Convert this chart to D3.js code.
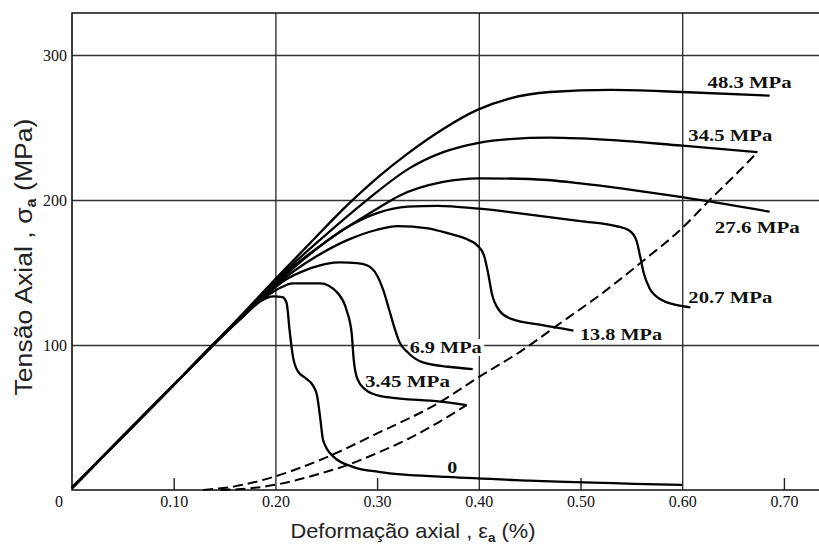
<!DOCTYPE html>
<html>
<head>
<meta charset="utf-8">
<script src="https://cdn.jsdelivr.net/npm/d3@7"></script>
<style>
	body { margin: 0; background: #fff; }
	svg { display: block; background: #fff; }
	.tick text { font-family: 'Liberation Serif', 'Times New Roman', serif; font-size: 16px; fill: #111; }
	.axis-title { font-family: 'Liberation Sans', Arial, sans-serif; fill: #222; }
	.curve-label { font-family: 'Liberation Serif', 'Times New Roman', serif; font-size: 17px; font-weight: bold; fill: #111; }
</style>
</head>
<body>
<svg id="chart-svg" width="819" height="548"></svg>
<script>
// Triaxial stress-strain curves, axial strain (%) vs axial stress (MPa)

// shared initial (elastic) branch
const ELASTIC = [[0, 1.5], [0.05, 37], [0.10, 72.5], [0.14, 101]];

// one array per confining pressure: [strain %, stress MPa]
const CURVE_0 = [[0.17, 121], [0.185, 130], [0.198, 133.5], [0.207, 133], [0.211, 129], [0.214, 110], [0.217, 93],
	[0.222, 82], [0.23, 77], [0.237, 72], [0.241, 65], [0.244, 50], [0.247, 34], [0.257, 23], [0.276, 16],
	[0.303, 12.4], [0.369, 9], [0.45, 6.5], [0.60, 3.5]];
const CURVE_345 = [[0.17, 121.5], [0.19, 133], [0.205, 139.5], [0.217, 142.5], [0.244, 142.5], [0.261, 136],
	[0.270, 124], [0.275, 108], [0.277, 90], [0.281, 76], [0.291, 68], [0.31, 64], [0.362, 61], [0.388, 58.6]];
const CURVE_69 = [[0.17, 121], [0.19, 134], [0.21, 145], [0.231, 152], [0.25, 156], [0.264, 157], [0.28, 156.5],
	[0.29, 155], [0.30, 148], [0.306, 138], [0.312, 124], [0.317, 112], [0.322, 102], [0.33, 95], [0.345, 88],
	[0.37, 85], [0.394, 83.4]];
const CURVE_138 = [[0.17, 121], [0.20, 141], [0.24, 161], [0.273, 173], [0.30, 179.5], [0.32, 182], [0.35, 180.5],
	[0.37, 177], [0.39, 172.5], [0.398, 169], [0.405, 162], [0.409, 150], [0.413, 135], [0.42, 124], [0.432, 118],
	[0.46, 114], [0.493, 110]];
const CURVE_207 = [[0.17, 121.5], [0.20, 142], [0.24, 166], [0.27, 181], [0.30, 191], [0.33, 195.5], [0.36, 196],
	[0.40, 194], [0.45, 190], [0.50, 185.5], [0.535, 182], [0.548, 179], [0.555, 172], [0.559, 160], [0.562, 150],
	[0.568, 139], [0.58, 131], [0.595, 127.5], [0.608, 126]];
const CURVE_276 = [[0.17, 122], [0.20, 143.5], [0.251, 172], [0.30, 194], [0.322, 203], [0.365, 212.5],
	[0.40, 215], [0.45, 214.5], [0.50, 211.5], [0.55, 207], [0.60, 202], [0.686, 192]];
const CURVE_345B = [[0.17, 122.5], [0.20, 144.5], [0.243, 172], [0.29, 200], [0.332, 222], [0.365, 233],
	[0.40, 239.5], [0.43, 242], [0.47, 243], [0.50, 242.5], [0.60, 237.5], [0.674, 233]];
const CURVE_483 = [[0.17, 123], [0.20, 145.5], [0.231, 168], [0.273, 198], [0.303, 217], [0.33, 232], [0.365, 249],
	[0.398, 262], [0.43, 270], [0.47, 274.5], [0.53, 276], [0.60, 274.5], [0.686, 272]];

// dashed unloading lines
const DASH_UPPER = [[0.129, 0], [0.16, 2.5], [0.198, 9], [0.244, 20.7], [0.30, 39], [0.362, 60.7], [0.398, 77],
	[0.443, 96.5], [0.48, 115], [0.52, 135], [0.559, 156.6], [0.60, 180.7], [0.627, 200], [0.657, 220.7], [0.674, 233]];
const DASH_LOWER = [[0.146, 0], [0.18, 1.5], [0.21, 5], [0.24, 10.5], [0.27, 17], [0.30, 25.5], [0.33, 35],
	[0.36, 46.5], [0.388, 58.6]];

const CURVES = [CURVE_0, CURVE_345, CURVE_69, CURVE_138, CURVE_207, CURVE_276, CURVE_345B, CURVE_483];
const LABELS = ['0', '3.45 MPa', '6.9 MPa', '13.8 MPa', '20.7 MPa', '27.6 MPa', '34.5 MPa', '48.3 MPa'];
// where each label sits, in chart units [strain, stress]
const LABEL_AT = [[0.369, 11.7], [0.288, 71], [0.332, 94.5], [0.4995, 103.4], [0.606, 129], [0.632, 177],
	[0.606, 240.7], [0.625, 277]];

const X_LABEL_TICKS = [0.10, 0.20, 0.30, 0.40, 0.50, 0.60, 0.70];
const X_GRID = [0.20, 0.40, 0.60];
const X_MINOR = [0.10, 0.30, 0.50, 0.70];
const Y_TICKS = [100, 200, 300];

// label widths in px (the scanned type is wide)
const LABEL_WIDTHS = [10, 85, 72, 82, 84, 85, 84, 84];

const svg = d3.select('#chart-svg');
const plotLeft = 72, plotRight = 819, plotTop = 13, plotBottom = 490;

const x = d3.scaleLinear([0, 0.7345], [plotLeft, plotRight]);
const y = d3.scaleLinear([0, 329], [plotBottom, plotTop]);

// grid lines
const xGrid = svg.append('g').attr('transform', `translate(0,${plotBottom})`)
	.call(d3.axisBottom(x).tickValues(X_GRID).tickSize(-(plotBottom - plotTop)).tickFormat(''));
xGrid.select('.domain').remove();
xGrid.selectAll('line').attr('stroke', '#333').attr('stroke-width', 1.4);

const yGrid = svg.append('g').attr('transform', `translate(${plotLeft},0)`)
	.call(d3.axisLeft(y).tickValues(Y_TICKS).tickSize(-(plotRight - plotLeft)).tickFormat(''));
yGrid.select('.domain').remove();
yGrid.selectAll('line').attr('stroke', '#333').attr('stroke-width', 1.4);

// short ticks on the strain axis
const minor = svg.append('g').attr('transform', `translate(0,${plotBottom})`)
	.call(d3.axisBottom(x).tickValues(X_MINOR).tickSize(-12).tickFormat(''));
minor.select('.domain').remove();
minor.selectAll('line').attr('stroke', '#222').attr('stroke-width', 1.4);

// frame: left, top and bottom
svg.append('path')
	.attr('d', `M${plotRight},${plotTop}H${plotLeft}V${plotBottom}H${plotRight}`)
	.attr('fill', 'none').attr('stroke', '#111').attr('stroke-width', 1.6);

// tick labels
const xAxis = svg.append('g').attr('transform', `translate(0,${plotBottom})`)
	.call(d3.axisBottom(x).tickValues(X_LABEL_TICKS).tickSize(0).tickPadding(6).tickFormat(d3.format('.2f')));
xAxis.select('.domain').remove();

const yAxis = svg.append('g').attr('transform', `translate(${plotLeft},0)`)
	.call(d3.axisLeft(y).tickValues(Y_TICKS).tickSize(0).tickPadding(5));
yAxis.select('.domain').remove();

svg.append('g').attr('class', 'tick').append('text')
	.attr('x', plotLeft - 13).attr('y', plotBottom + 17).attr('text-anchor', 'middle').text('0');

// curve labels, with a white patch so grid lines break around them
const labelG = svg.append('g');
LABELS.forEach((name, i) => {
	const g = labelG.append('g');
	const t = g.append('text')
		.attr('class', 'curve-label')
		.attr('x', x(LABEL_AT[i][0]))
		.attr('y', y(LABEL_AT[i][1]))
		.attr('textLength', LABEL_WIDTHS[i])
		.attr('lengthAdjust', 'spacingAndGlyphs')
		.text(name);
	const b = t.node().getBBox();
	g.insert('rect', 'text')
		.attr('x', b.x - 2).attr('y', b.y + 1)
		.attr('width', b.width + 4).attr('height', b.height - 2)
		.attr('fill', '#fff');
});

// curves
const line = d3.line()
	.x((d) => x(d[0]))
	.y((d) => y(d[1]))
	.curve(d3.curveMonotoneX);

svg.append('g')
	.selectAll('path')
	.data(CURVES)
	.enter()
	.append('path')
	.attr('d', (c) => line(ELASTIC.concat(c)))
	.attr('fill', 'none')
	.attr('stroke', '#000')
	.attr('stroke-width', 2.3)
	.attr('stroke-linejoin', 'round');

svg.append('g')
	.selectAll('path')
	.data([DASH_UPPER, DASH_LOWER])
	.enter()
	.append('path')
	.attr('d', line)
	.attr('fill', 'none')
	.attr('stroke', '#000')
	.attr('stroke-width', 2)
	.attr('stroke-dasharray', '10,5');

// axis titles
const yTitle = svg.append('text')
	.attr('class', 'axis-title')
	.attr('transform', 'translate(32,257) rotate(-90)')
	.attr('text-anchor', 'middle')
	.attr('font-size', 23)
	.attr('textLength', 277)
	.attr('lengthAdjust', 'spacingAndGlyphs');
yTitle.append('tspan').text('Tensão Axial , σ');
yTitle.append('tspan').attr('font-size', 14).attr('font-weight', 'bold').attr('dy', 4).text('a');
yTitle.append('tspan').attr('dy', -4).text(' (MPa)');

const xTitle = svg.append('text')
	.attr('class', 'axis-title')
	.attr('x', 413).attr('y', 538)
	.attr('text-anchor', 'middle')
	.attr('font-size', 21)
	.attr('textLength', 245)
	.attr('lengthAdjust', 'spacingAndGlyphs');
xTitle.append('tspan').text('Deformação axial , ε');
xTitle.append('tspan').attr('font-size', 13).attr('font-weight', 'bold').attr('dy', 4).text('a');
xTitle.append('tspan').attr('dy', -4).text(' (%)');
</script>
</body>
</html>
